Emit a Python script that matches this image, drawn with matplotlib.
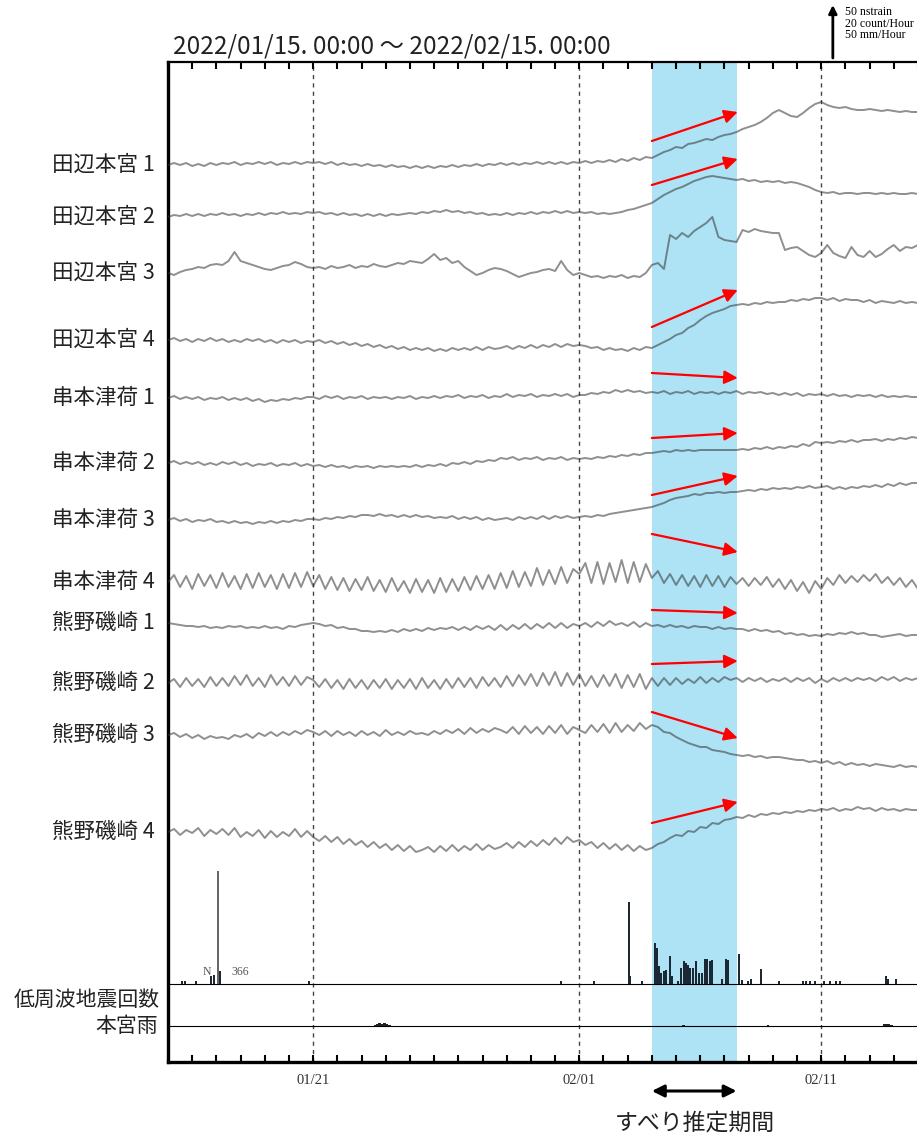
import numpy as np
import matplotlib.pyplot as plt
from matplotlib.transforms import blended_transform_factory

plt.rcParams['font.family'] = ['Noto Sans CJK JP', 'DejaVu Sans']

# 観測点名と基線位置 (縦軸 1 = 約1 nstrain)
stations = ['田辺本宮 1', '田辺本宮 2', '田辺本宮 3', '田辺本宮 4',
            '串本津荷 1', '串本津荷 2', '串本津荷 3', '串本津荷 4',
            '熊野磯崎 1', '熊野磯崎 2', '熊野磯崎 3', '熊野磯崎 4']
offsets = [897, 845, 789, 722, 664, 599, 542, 480, 439, 379, 327, 230]

# 01/15 00:00 から6時間ごとの歪み変化
tanabe1 = [0, 2, 0, 2, -1, 1, -1, 2, 0, 2, 1, 3, 0, 2, 1, 3, 1, 3, 0, 2, 1, 3, 1, 3, 2,
           3, 1, 3, 0, 2, 0, 1, -1, 1, -1, 0, -2, 0, -2, -1, -3, -1, -3,
           -1, -3, -1, -2, 0, -2, 0, -1, 1, -1, 1, 0, 2, 0, 2, 0, 2, 1, 3, 1, 3, 1, 3, 1, 3, 2,
           4, 2, 4, 3, 5, 3, 6, 4, 7, 5, 8, 7,
           10, 13, 15, 18, 17, 21, 22, 24, 26, 25, 28, 30, 31, 33,
           36, 38, 40, 43, 47, 52, 55, 52, 49, 48, 52, 57, 61, 63,
           60, 58, 57, 58, 56, 55, 55, 56, 55, 54, 55, 54, 53, 54, 53, 53]
tanabe2 = [0, 2, 1, 3, 1, 3, 1, 3, 2, 4, 2, 3, 1, 3, 2, 4, 2, 4, 3, 5, 3, 4, 3, 5, 4,
           5, 3, 4, 2, 4, 2, 3, 1, 3, 1, 3, 1, 3, 2,
           3, 4, 3, 5, 4, 6, 5, 7, 5, 6, 4, 5, 3, 4, 2, 3, 2,
           4, 2, 4, 3, 5, 3, 5, 4, 6, 4, 6, 4, 5, 4, 5, 3, 4, 3, 4,
           5, 7, 8, 10, 12, 14, 18, 22, 25, 28, 30, 33, 36, 38, 40,
           41, 40, 39, 38, 37, 38, 36, 37, 35, 36, 35, 36, 34, 35, 34,
           32, 30, 27, 25,
           24, 25, 23, 24, 24, 23, 24, 24, 23, 24, 23, 24, 23, 23, 24, 23]
tanabe3 = [0, -2, 1, 3, 4, 6, 5, 8, 9, 8, 12, 21, 12, 10, 8, 6, 4, 3, 5, 7, 8, 11, 9, 6, 5,
           6, 4, 7, 5, 6, 8, 5, 7, 6, 9, 7, 6, 8, 10, 9, 12, 11, 10, 14, 19, 13, 15, 10, 12,
           6, 2, -2, 0, 3, 5, 4, 2, -1, -4, -2, 0, 1, 3, 4, 2, 12, 3, -2, 0,
           -2, -4, -3, -5, -3, -4, -2, -5, -3, -4, 0, 8,
           10, 4, 38, 34, 40, 36, 42, 46, 50, 56, 36, 33, 32, 31,
           43, 41, 44, 42, 41, 40, 40, 23, 25, 26,
           22, 18, 16, 20, 28, 20, 17, 15, 26, 18, 16, 22, 16, 19, 24, 28, 22, 26, 25, 28]
tanabe4 = [0, 2, -1, 1, -2, 1, -1, 2, -1, 1, -2, 0, -2, 1, -1, 1, -2, 0, -3, 0, -2, 0, -3, -1, -2,
           0, -3, -1, -4, -2, -5, -3, -6, -4, -7, -5, -8, -6, -9, -7, -10, -8, -10,
           -8, -11, -9, -11, -8, -10, -8, -10, -7, -10, -7, -9, -8,
           -6, -9, -6, -8, -5, -8, -5, -7, -4, -7, -4, -6, -5,
           -6, -8, -7, -10, -8, -10, -9, -11, -8, -10, -7, -8,
           -5, -2, 1, 5, 7, 12, 15, 20, 24, 27, 29, 31, 34, 35,
           36, 35, 37, 36, 38, 37, 38, 38, 40, 39, 41, 40, 42, 42,
           40, 42, 39, 41, 40, 40, 38, 40, 37, 39, 38, 37, 39, 37, 38, 37]
kushimoto1 = [0, 2, -1, 1, -1, 1, -2, 0, -1, 1, -2, 0, -2, 0, -3, -1, -4, -2, -3, -1, -2, 0, -1, 1, 1,
              -1, 2, 0, 2, -1, 1, 0, 2, -1, 1, 0, 1, -1, 1, 0, 2, -1, 1, 0, 2,
              0, 2, 1, 3, 0, 2, 1, 3, 0, 2, 1, 4, 1, 3, 2, 4, 1, 3, 2, 4, 2, 4, 1, 3,
              3, 5, 4, 6, 5, 8, 6, 8, 6, 7, 5, 6,
              5, 7, 4, 6, 5, 7, 4, 6, 5, 6, 4, 6, 5, 7, 4, 6, 5, 6, 4, 5,
              3, 5, 3, 5, 2, 4, 3, 4, 2, 4, 2, 3, 1, 3, 2, 3, 1, 3, 1, 2, 1, 2, 1, 1]
kushimoto2 = [0, 2, -1, 1, -1, 1, -2, 0, -2, 1, -1, 1, -2, 0, -3, -1, -2, 0, -3, -1, -2, 0, -3, -1, -3,
              -2, -4, -2, -4, -3, -5, -3, -4, -3, -5, -3, -4, -3, -4,
              -3, -4, -2, -4, -2, -3, -1, -3, 0, -1, 1, -1, 2, 1, 3, 2, 5, 4,
              6, 3, 5, 4, 6, 3, 5, 4, 6, 3, 5, 4,
              5, 4, 6, 5, 7, 6, 8, 7, 9, 8, 10, 10,
              11, 12, 11, 13, 12, 13, 12, 13, 13, 13, 13, 13, 13, 13,
              14, 13, 15, 14, 16, 14, 16, 15, 17, 16, 19, 17, 21, 20,
              21, 20, 22, 21, 23, 21, 23, 23, 24, 22, 24, 23, 25, 24, 26, 25]
kushimoto3 = [0, 2, -1, 1, -2, 0, -1, 1, -2, -1, -3, -1, -3, -2, -4, -2, -3, -1, -3, -1, -2, 0, -1, 1, 1,
              0, 2, 1, 3, 2, 4, 3, 5, 5,
              4, 6, 4, 5, 3, 5, 3, 5, 3, 4, 2, 3,
              2, 4, 1, 3, 1, 3, 0, 2, 0, 1,
              2, 0, 3, 1, 3, 1, 4, 1, 4, 2, 4, 2, 3,
              4, 3, 5, 4, 6, 7, 8, 9, 10, 11, 12, 13,
              15, 17, 20, 22, 23, 24, 26, 25, 27, 27, 28, 27, 28, 28,
              29, 30, 29, 31, 30, 32, 31, 32, 31, 33, 32, 34, 32, 33,
              34, 31, 33, 31, 33, 32, 34, 33, 35, 33, 36, 34, 37, 35, 37, 37]
kushimoto4 = [0, 7, -5, 6, -7, 8, -4, 7, -6, 9, -5, 6, -7, 8, -6, 9, -5, 7, -7, 8, -6, 9, -5, 10, -4,
              7, -7, 5, -8, 4, -9, 3, -8, 5, -9, 2, -10, 4, -9, 1, -11, 3, -10, 2, -11, 4, -10, 3, -9,
              5, -8, 6, -7, 7, -7, 9, -6, 11, -5, 10, -4, 14, -3, 12, -2, 15, -1, 13, 8,
              19, -1, 20, -2, 19, 0, 22, -1, 20, 0, 18, 4,
              11, -1, 8, -3, 7, -4, 6, -5, 7, -4, 6, -5, 5, -2,
              4, -4, 4, -3, 5, -5, 3, -7, 2, -9, 0, -11, 1, -7, 4, -3, 7, -1, 6, 0,
              7, 1, 8, -1, 5, -3, 4, -5, 2, -7]
kumano1 = [0, -1, -2, -3, -3, -4, -3, -5, -4, -5, -3, -4, -3, -5, -4, -5, -3, -5, -4, -6, -3, -4, -2, -1, 0,
           -1, -3, -2, -5, -4, -6, -6, -8, -8, -9,
           -8, -9, -7, -9, -6, -8, -6, -8, -5, -7, -5, -6,
           -4, -7, -4, -7, -3, -6, -3, -7, -2, -7, -2, -6, -1, -6, -1, -5, 0, -5, 0, -5, -1, -3,
           0, -4, 1, -3, 2, -2, 0, -3, 1, -4, 0, -3,
           -2, -4, -2, -4, -3, -5, -3, -4, -4, -6, -4, -6, -5, -6,
           -6, -8, -6, -8, -7, -9, -8, -11, -10, -12,
           -11, -13, -12, -13, -11, -12, -10, -11, -9, -11, -10, -12, -12, -14, -13, -12, -11, -13, -12, -12]
kumano2 = [0, 4, -4, 5, -3, 4, -4, 6, -3, 5, -3, 7, -2, 8, -3, 5, -4, 8, -2, 6, -3, 7, -2, 6, 3,
           -4, 4, -5, 3, -6, 4, -5, 3, -6, 3, -5, 4, -6, 3, -5, 4, -6, 5, -5, 3,
           -6, 4, -5, 5, -4, 5, -5, 6, -3, 5, -4, 7, -3, 8, -2, 9, -3, 10, -2, 11,
           -3, 10, -2, 9,
           -3, 7, -4, 8, -3, 9, -5, 8, -4, 9, -6, 5,
           -3, 5, -2, 5, -1, 4, 0, 6, 0, 5, 1, 6, 3, 5,
           1, 5, 2, 5, 1, 4, 2, 5, 1, 5, 2, 5, 0, 4, 1, 5, 2, 5, 2, 5,
           3, 5, 2, 6, 3, 6, 2, 5, 3, 5]
kumano3 = [0, 2, -2, 1, -3, 0, -4, -1, -3, -2, -4, 0, -2, 1, -3, 2, -1, 3, -1, 3, 0, 4, 1, 5, 3,
           0, 4, -1, 4, 0, 3, -1, 4, 0, 3, -1, 5, 0, 3, 0, 4, 1, 2,
           0, 4, 1, 5, 2, 6, 1, 7, 2, 6, 3, 7, 5,
           2, 8, 1, 9, 2, 8, 1, 9, 2, 10, 1, 8, 5,
           2, 10, 3, 11, 2, 12, 3, 10, 4, 12, 6, 10,
           8, 3, 2, -2, -5, -8, -10, -12, -12, -15, -16, -17, -19, -20,
           -21, -20, -22, -21, -23, -22, -22, -23, -24, -25, -25, -27, -26, -28,
           -26, -29, -27, -30, -28, -30, -29, -31, -29, -30, -31, -32, -30, -32, -31, -32]
kumano4 = [0, 3, -3, 2, -1, 4, -4, 2, -2, 3, -3, 4, -5, 0, -4, 2, -6, 1, -5, 0, -4, 3, -5, 1, -5,
           -9, -4, -10, -5, -12, -7, -13, -9, -15, -10, -16, -12, -18, -13, -19, -14, -20, -18,
           -15, -20, -14, -19, -13, -19, -14, -18, -12, -18, -13, -17, -15,
           -11, -16, -10, -15, -9, -14, -8, -13, -6, -12, -5, -10, -8,
           -13, -10, -16, -11, -17, -12, -18, -13, -19, -14, -18, -16,
           -12, -10, -6, -3, -4, 1, 0, 5, 4, 9, 8, 12, 13, 15,
           14, 17, 15, 18, 17, 19, 18, 20, 19, 21, 20, 22, 21, 23, 22, 24, 21, 23, 22, 25,
           23, 24, 21, 24, 22, 23, 21, 23, 22, 22]
traces = [tanabe1, tanabe2, tanabe3, tanabe4, kushimoto1, kushimoto2, kushimoto3,
          kushimoto4, kumano1, kumano2, kumano3, kumano4]

# すべり期間の変化方向 (始点, 終点)  田辺本宮3 は矢印なし
arrow_start = [24, 32, None, 13, 25, 25, 25, 48, 13, 19, 23, 9]
arrow_end = [53, 58, None, 50, 20, 30, 44, 30, 10, 22, -3, 30]
slip_period = (20.0, 23.5)

# 低周波地震回数 (count/hour)
eq_t = [0.58, 0.70, 1.16, 1.78, 1.90, 2.07, 2.15, 5.83, 16.25, 17.6, 19.05, 19.12, 19.6,
        20.12, 20.21, 20.29, 20.37, 20.5, 20.58, 20.74, 20.83, 21.07, 21.2, 21.32, 21.4,
        21.49, 21.57, 21.69, 21.82, 21.94, 22.07, 22.19, 22.27, 22.4, 22.48, 22.89, 23.06,
        23.14, 23.6, 23.72, 23.97, 24.09, 24.5, 25.25, 26.24, 26.36, 26.53, 26.74, 27.11,
        27.36, 27.6, 27.77, 29.67, 29.75, 30.08]
eq_n = [1, 1, 1, 3, 3.5, 366, 5, 1, 1, 1, 31, 3, 1,
        15.5, 13.6, 6.8, 4.2, 4.9, 5.3, 10.6, 3, 1.1, 6, 8.7, 7.9,
        7.2, 6, 6, 8.7, 4.2, 4.2, 9.4, 9.4, 8.7, 9, 1.9, 9.4,
        9, 11.3, 1.5, 1, 1.9, 5.7, 1, 1, 1, 1, 1, 1,
        1, 1, 1, 3, 2, 1.9]

# 本宮雨 (mm/hour)
rain_t = [8.55, 8.65, 8.75, 8.85, 8.95, 9.05, 9.15, 21.3, 24.8, 29.6, 29.7, 29.8, 29.9]
rain_mm = [1, 2, 3, 2, 3, 2, 1, 0.5, 0.5, 2, 2, 1.5, 1]

date_ticks = [6, 17, 27]
date_labels = ['01/21', '02/01', '02/11']

EQ_BASE, RAIN_BASE = 78, 36
EQ_SCALE = 53 / 20      # 20 count/Hour
RAIN_SCALE = 53 / 50    # 50 mm/Hour
EQ_CLIP = 42.6

fig = plt.figure(figsize=(9.17, 11.36), dpi=100)
ax = fig.add_axes([168 / 917, 74 / 1136, 750 / 917, 1000 / 1136])
ax.set_xlim(0, 31)
ax.set_ylim(0, 1000)

# すべり推定期間
ax.axvspan(*slip_period, color='#ade3f5', lw=0, zorder=0)
for d in date_ticks:
    ax.axvline(d, color='#444444', lw=1, ls=(0, (3, 3)), zorder=1)

# 歪み計
for vals, off in zip(traces, offsets):
    v = np.array(vals, dtype=float)
    t = np.arange(len(v)) * 0.25
    ax.plot(t, off + v, color='#333333', alpha=0.55, lw=1.4, zorder=3,
            solid_joinstyle='round')

for off, a0, a1 in zip(offsets, arrow_start, arrow_end):
    if a0 is None:
        continue
    ax.annotate('', xy=(slip_period[1] + 0.05, off + a1), xytext=(slip_period[0], off + a0),
                arrowprops=dict(arrowstyle='-|>', color='red', lw=1.6,
                                mutation_scale=20, shrinkA=0, shrinkB=0), zorder=5)

# 低周波地震 / 雨量
ax.axhline(EQ_BASE, color='black', lw=0.8, zorder=2)
ax.axhline(RAIN_BASE, color='black', lw=0.8, zorder=2)
eq_h = np.minimum(np.array(eq_n), EQ_CLIP) * EQ_SCALE
eq_c = ['#666666' if n > EQ_CLIP else '#1c2833' for n in eq_n]
ax.bar(eq_t, eq_h, bottom=EQ_BASE, width=0.07, color=eq_c, zorder=3)
ax.text(1.45, 90, 'N', family='Liberation Serif', fontsize=8.5, color='#555555', va='center')
ax.text(2.64, 90, '366', family='Liberation Serif', fontsize=8.5, color='#555555', va='center')
ax.bar(rain_t, np.array(rain_mm) * RAIN_SCALE, bottom=RAIN_BASE, width=0.1,
       color='#222222', zorder=3)

# 軸
ax.set_yticks([])
ax.set_xticks(np.arange(0, 32))
ax.set_xticklabels([date_labels[date_ticks.index(d)] if d in date_ticks else ''
                    for d in range(32)])
ax.tick_params(axis='x', direction='in', top=True, length=5, width=1.5,
               labelsize=10.5, pad=9, labelcolor='#333333')
for lbl in ax.get_xticklabels():
    lbl.set_family('Liberation Serif')
ax.spines['left'].set_linewidth(2.4)
ax.spines['bottom'].set_linewidth(2.4)
ax.spines['top'].set_linewidth(1.6)

# 観測点ラベル
trans = blended_transform_factory(fig.transFigure, ax.transData)
for name, off in zip(stations, offsets):
    ax.text(155 / 917, off, name, transform=trans, ha='right', va='center',
            fontsize=15.5, color='#222222')
ax.text(160 / 917, 62, '低周波地震回数', transform=trans, ha='right', va='center',
        fontsize=15, color='#222222')
ax.text(158 / 917, 36, '本宮雨', transform=trans, ha='right', va='center',
        fontsize=15, color='#222222')

# スケール
ax.annotate('', xy=(27.48, 1057), xytext=(27.48, 1004), annotation_clip=False,
            arrowprops=dict(arrowstyle='-|>', color='black', lw=2,
                            mutation_scale=12, shrinkA=0, shrinkB=0))
ax.text(27.98, 1056, '50 nstrain\n20 count/Hour\n50 mm/Hour', family='Liberation Serif',
        fontsize=8.5, va='top', linespacing=0.95, clip_on=False)

fig.text(173 / 917, 1 - 53 / 1136, '2022/01/15. 00:00 ～ 2022/02/15. 00:00',
         fontsize=17.5, va='baseline', color='#222222')

ax.annotate('', xy=(slip_period[1], -29), xytext=(slip_period[0], -29), annotation_clip=False,
            arrowprops=dict(arrowstyle='<|-|>', color='black', lw=2.2,
                            mutation_scale=18, shrinkA=0, shrinkB=0))
ax.text(21.78, -61, 'すべり推定期間', ha='center', va='center', fontsize=16.5,
        color='#222222', clip_on=False)

fig.savefig('out.png', dpi=100)
